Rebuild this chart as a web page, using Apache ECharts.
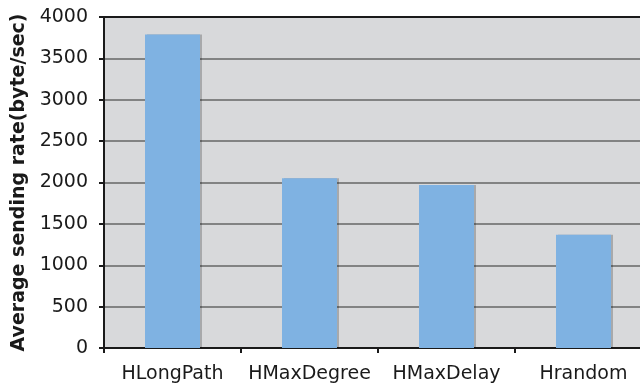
<!DOCTYPE html>
<html>
<head>
<meta charset="utf-8">
<script src="https://cdn.jsdelivr.net/npm/echarts@6/dist/echarts.min.js"></script>
<style>
  html, body { margin: 0; padding: 0; background: #fff; overflow: hidden; }
  #chart { width: 652px; height: 386px; }
</style>
</head>
<body>
<div id="chart"></div>
<script>
const categories = ['HLongPath', 'HMaxDegree', 'HMaxDelay', 'Hrandom']
const rates = [3790, 2050, 1970, 1370]
const yTicks = { min: 0, max: 4000, interval: 500 }
const yTitle = 'Average sending rate(byte/sec)'

const font = 'DejaVu Sans, Verdana, sans-serif'

// plot area runs past the right edge of the picture, so the canvas is a bit wider than the window
const chart = echarts.init(document.getElementById('chart'), null, { renderer: 'canvas' })

chart.setOption({
  animation: false,
  backgroundColor: '#fff',
  grid: {
    left: 104,
    right: 0,
    top: 17,
    bottom: 38,
    outerBoundsMode: 'none',
    containLabel: false,
    show: true,
    backgroundColor: '#d8d9db',
    borderWidth: 0,
  },
  xAxis: [
    {
      type: 'category',
      data: categories,
      axisLine: { lineStyle: { color: '#1a1a1a', width: 2 } },
      axisTick: { show: true, length: 5, lineStyle: { color: '#1a1a1a', width: 2 } },
      axisLabel: { color: '#1a1a1a', fontFamily: font, fontSize: 19, margin: 17, interval: 0 },
    },
    {
      type: 'category',
      position: 'top',
      data: categories,
      axisLine: { lineStyle: { color: '#1a1a1a', width: 2 } },
      axisTick: { show: false },
      axisLabel: { show: false },
    },
  ],
  yAxis: {
    type: 'value',
    min: yTicks.min,
    max: yTicks.max,
    interval: yTicks.interval,
    name: yTitle,
    nameLocation: 'middle',
    nameGap: 73,
    nameTextStyle: { color: '#1a1a1a', fontFamily: font, fontSize: 19, fontWeight: 'bold' },
    axisLine: { show: true, lineStyle: { color: '#1a1a1a', width: 2 } },
    axisTick: { show: true, length: 5, lineStyle: { color: '#1a1a1a', width: 2 } },
    axisLabel: {
      color: '#1a1a1a',
      fontFamily: font,
      fontSize: 19,
      margin: 16,
      formatter: (value) => String(value),
    },
    splitLine: { show: true, lineStyle: { color: '#666', width: 1.5 } },
  },
  series: [
    {
      type: 'bar',
      data: rates,
      barWidth: 55,
      itemStyle: {
        color: '#7fb2e2',
        shadowColor: 'rgba(0,0,0,0.22)',
        shadowOffsetX: 2,
        shadowBlur: 0,
      },
    },
  ],
})
</script>
</body>
</html>
